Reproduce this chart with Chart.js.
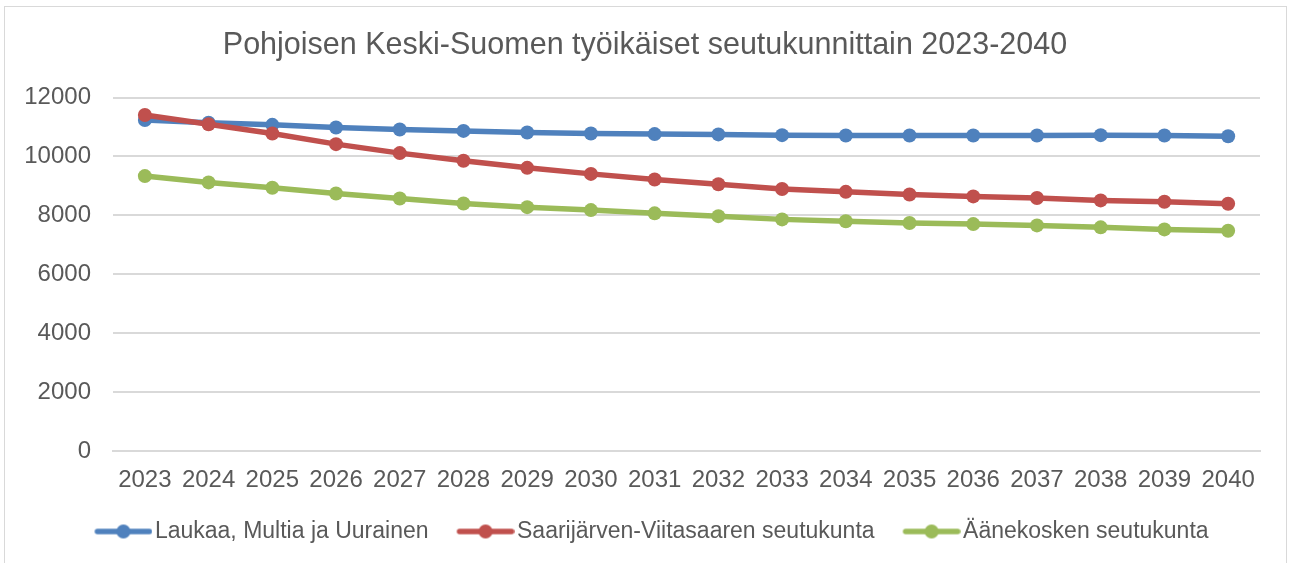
<!DOCTYPE html>
<html>
<head>
  <title>Pohjoisen Keski-Suomen työikäiset seutukunnittain</title>
  <script src="https://cdn.jsdelivr.net/npm/chart.js"></script>
</head>
<style>
  body { margin: 0; background: #fff; }
  .chart-container { position: relative; width: 1290px; height: 563px; }
  /* light frame round the chart, like the Excel chart area */
  .frame { position: absolute; left: 4px; top: 6px; width: 1283px; height: 600px; box-sizing: border-box; border: 1px solid #d9d9d9; pointer-events: none; }
</style>
<body>
  <div class="chart-container">
    <canvas id="chart"></canvas>
    <div class="frame"></div>
  </div>

<script>
  const years = ["2023", "2024", "2025", "2026", "2027", "2028", "2029", "2030", "2031",
                 "2032", "2033", "2034", "2035", "2036", "2037", "2038", "2039", "2040"];
  const laukaa = [11240, 11150, 11075, 10985, 10915, 10870, 10815, 10780, 10760,
                  10750, 10725, 10715, 10715, 10715, 10715, 10725, 10715, 10690];
  const saarijarvi = [11410, 11095, 10780, 10420, 10115, 9855, 9615, 9410, 9220,
                      9060, 8895, 8800, 8710, 8645, 8590, 8510, 8465, 8395];
  const aanekoski = [9335, 9120, 8940, 8745, 8575, 8405, 8280, 8180, 8070,
                     7975, 7865, 7800, 7740, 7705, 7660, 7595, 7525, 7480];
  const yTicks = [0, 2000, 4000, 6000, 8000, 10000, 12000];

  const textColor = "#595959";
  const gridColor = "#d9d9d9";

  // legend symbol: short line with a dot in the middle
  // (canvas is wider than the legend box so the line sits right next to the text)
  function legendMarker(color) {
    const c = document.createElement("canvas");
    c.width = 80;
    c.height = 18;
    const ctx = c.getContext("2d");
    ctx.strokeStyle = color;
    ctx.lineWidth = 5.5;
    ctx.lineCap = "round";
    ctx.beginPath();
    ctx.moveTo(25, 9);
    ctx.lineTo(77, 9);
    ctx.stroke();
    ctx.fillStyle = color;
    ctx.beginPath();
    ctx.arc(51, 9, 7, 0, Math.PI * 2);
    ctx.fill();
    return c;
  }

  function series(label, data, color, order) {
    return {
      label: label,
      data: data,
      borderColor: color,
      backgroundColor: color,
      borderWidth: 5.5,
      pointRadius: 7,
      pointHoverRadius: 7,
      pointBorderWidth: 0,
      pointBackgroundColor: color,
      tension: 0,
      order: order,
    };
  }

  const chart = new Chart("chart", {
    type: "line",
    data: {
      labels: years,
      datasets: [
        series("Laukaa, Multia ja Uurainen", laukaa, "#4f81bd", 3),
        series("Saarijärven-Viitasaaren seutukunta", saarijarvi, "#c0504d", 2),
        series("Äänekosken seutukunta", aanekoski, "#9bbb59", 1),
      ],
    },
    options: {
      responsive: true,
      maintainAspectRatio: false,
      animation: false,
      layout: { padding: { left: 0, right: 0, top: 0, bottom: 10 } },
      scales: {
        x: {
          offset: true,
          grid: { display: false, drawTicks: false },
          border: { display: true, color: gridColor, width: 2 },
          ticks: { color: textColor, font: { family: "Liberation Sans", size: 24 }, padding: 15, autoSkip: false, maxRotation: 0 },
          afterFit: (scale) => { scale.height = 54; },
        },
        y: {
          min: 0,
          max: 12000,
          afterBuildTicks: (scale) => { scale.ticks = yTicks.map((v) => ({ value: v })); },
          grid: { color: gridColor, lineWidth: 2, drawTicks: false },
          border: { display: false },
          ticks: { color: textColor, font: { family: "Liberation Sans", size: 24 }, padding: 22, callback: (v) => String(v) },
          afterFit: (scale) => { scale.width = 113; },
        },
        // empty axis on the right, only keeps the plot area off the right edge
        yRight: {
          position: "right",
          grid: { display: false, drawTicks: false },
          border: { display: false },
          ticks: { display: false },
          afterFit: (scale) => { scale.width = 30; },
        },
      },
      plugins: {
        title: {
          display: true,
          text: "Pohjoisen Keski-Suomen työikäiset seutukunnittain 2023-2040",
          color: textColor,
          font: { family: "Liberation Sans", size: 30.5, weight: "normal" },
          padding: { top: 27, bottom: 34 },
        },
        legend: {
          position: "bottom",
          labels: {
            usePointStyle: true,
            pointStyleWidth: 62,
            padding: 15,
            color: textColor,
            font: { family: "Liberation Sans", size: 23 },
            generateLabels: (chart) => chart.data.datasets.map((ds, i) => ({
              text: ds.label,
              fillStyle: ds.borderColor,
              strokeStyle: ds.borderColor,
              lineWidth: 0,
              pointStyle: legendMarker(ds.borderColor),
              fontColor: textColor,
              datasetIndex: i,
              hidden: false,
            })),
          },
        },
        tooltip: { enabled: false },
      },
    },
  });
</script>
</body>
</html>
